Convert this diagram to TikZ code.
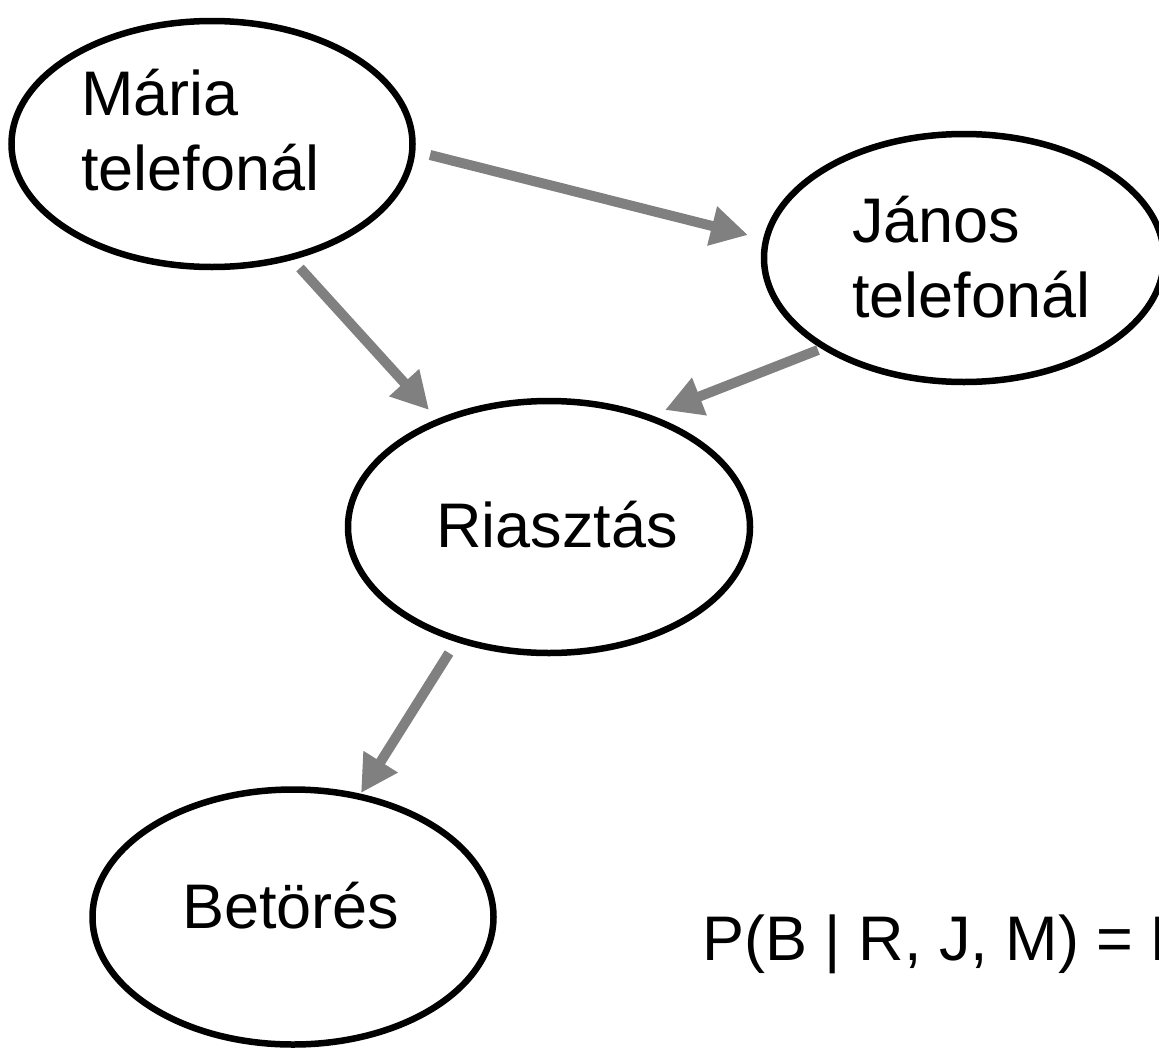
\documentclass[tikz,border=0pt]{standalone}
\usepackage{fontspec}
\setmainfont{Liberation Sans}
\usetikzlibrary{arrows.meta,shapes.geometric}
\definecolor{edgegray}{HTML}{808080}
\begin{document}
\begin{tikzpicture}[x=1pt,y=-1pt,
  oval/.style={ellipse,draw=black,line width=6.5pt,inner sep=0pt},
  lbl/.style={inner sep=0pt,align=left,font=\fontsize{63}{75}\selectfont},
  link/.style={draw=edgegray,line width=10pt,
    -{Triangle[length=37pt,width=38pt]}}]
\useasboundingbox (0,0) rectangle (1159,1055);

% variables of the network
\node[oval,minimum width=401pt,minimum height=246pt] (maria) at (212,144) {};
\node[oval,minimum width=400pt,minimum height=248pt] (janos) at (964,258) {};
\node[oval,minimum width=402pt,minimum height=252pt] (riaszt) at (549,527) {};
\node[oval,minimum width=401pt,minimum height=255pt] (betor) at (293,917) {};

% their labels
\node[lbl,anchor=west] (mariaT) at (81,130) {Mária\\telefonál};
\node[lbl,anchor=west] (janosT) at (852,257) {János\\telefonál};
\node[lbl,anchor=base west] (riasztT) at (436,547) {Riasztás};
\node[lbl,anchor=base west] (betorT) at (182,928) {Betörés};
\node[lbl,anchor=base west] (formula) at (702,960) {P(B | R, J, M) = P};

% ends of the edges
\coordinate (mj1) at (430,155);
\coordinate (mj2) at (748,235);
\coordinate (mr1) at (300,268);
\coordinate (mr2) at (429,410);
\coordinate (jr1) at (818,350);
\coordinate (jr2) at (665,410);
\coordinate (rb1) at (449,653);
\coordinate (rb2) at (361,793);

\draw[link] (mj1) -- (mj2);
\draw[link] (mr1) -- (mr2);
\draw[link] (jr1) -- (jr2);
\draw[link] (rb1) -- (rb2);
\end{tikzpicture}
\end{document}
